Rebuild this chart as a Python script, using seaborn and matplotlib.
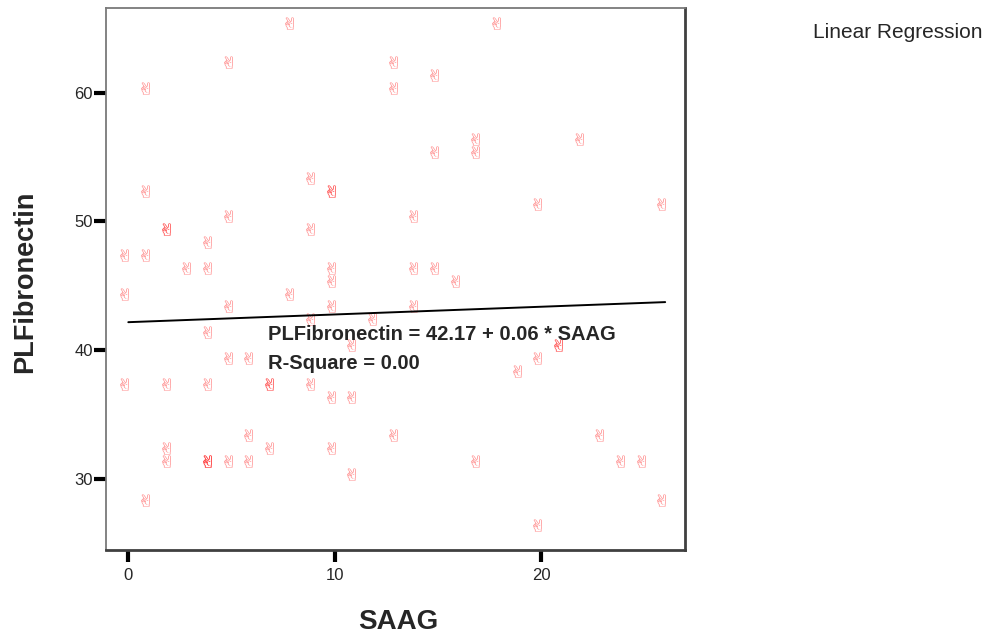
import numpy as np
import pandas as pd
import matplotlib
matplotlib.use("Agg")
import matplotlib.pyplot as plt
from matplotlib.transforms import ScaledTranslation, Affine2D
from matplotlib.textpath import TextPath
from matplotlib.font_manager import FontProperties
import seaborn as sns

# ---- data ----
saag = [8, 18, 5, 13, 15, 1, 13, 17, 22, 15, 17, 9, 1, 10, 10, 5, 14, 20, 26,
        2, 2, 9, 4, 0, 1, 3, 4, 10, 14, 15, 10, 16, 0, 8, 5, 10, 14, 9, 12, 4,
        11, 21, 21, 5, 6, 20, 19, 0, 2, 4, 7, 7, 9, 10, 11, 6, 13, 23, 2, 7,
        10, 2, 4, 4, 4, 5, 6, 17, 24, 25, 11, 1, 26, 20]
plfibronectin = [65, 65, 62, 62, 61, 60, 60, 56, 56, 55, 55, 53, 52, 52, 52, 50,
                 50, 51, 51, 49, 49, 49, 48, 47, 47, 46, 46, 46, 46, 46, 45, 45,
                 44, 44, 43, 43, 43, 42, 42, 41, 40, 40, 40, 39, 39, 39, 38, 37,
                 37, 37, 37, 37, 37, 36, 36, 33, 33, 33, 32, 32, 32, 31, 31, 31,
                 31, 31, 31, 31, 31, 31, 30, 28, 28, 26]
intercept = 42.17
slope = 0.06
r_square = 0.00
x_ticks = [0, 10, 20]
y_ticks = [30, 40, 50, 60]

df = pd.DataFrame({"SAAG": saag, "PLFibronectin": plfibronectin})

sns.set_style("white")
plt.rcParams["font.family"] = ["Liberation Sans", "DejaVu Sans"]

# victory-hand glyph marker, widened a little
tp = TextPath((0, 0), "\u270c", size=10, prop=FontProperties(family="DejaVu Sans"))
bb = tp.get_extents()
hand = tp.transformed(Affine2D().translate(-(bb.x0 + bb.x1) / 2,
                                           -(bb.y0 + bb.y1) / 2).scale(1.5, 1.0))

fig = plt.figure(figsize=(9.9, 6.37), dpi=100)
ax = fig.add_axes([106 / 990, 1 - 550 / 637, 579 / 990, 542 / 637])

sns.scatterplot(data=df, x="SAAG", y="PLFibronectin", ax=ax,
                marker=hand, s=190, color="#ff1a1a", alpha=0.5,
                linewidth=0, legend=False)
# SPSS draws the glyph slightly up-left of the data point
coll = ax.collections[0]
coll.set_offset_transform(ax.transData +
                          ScaledTranslation(-4 / 100, 5 / 100, fig.dpi_scale_trans))

x_fit = np.linspace(min(saag), max(saag), 100)
y_fit = intercept + slope * x_fit
sns.lineplot(x=x_fit, y=y_fit, ax=ax, color="black", linewidth=1.4)

ax.set_xlim(-1.08, 26.96)
ax.set_ylim(24.47, 66.58)
ax.set_xticks(x_ticks)
ax.set_yticks(y_ticks)
ax.tick_params(axis="both", direction="out", length=8.6, width=3.0,
               color="black", labelsize=12)
ax.tick_params(axis="y", pad=1)
ax.tick_params(axis="x", pad=4)
ax.tick_params(left=True, bottom=True)

for side in ["left", "top"]:
    ax.spines[side].set_color("#7a7a7a")
    ax.spines[side].set_linewidth(1.3)
for side in ["right", "bottom"]:
    ax.spines[side].set_color("#404040")
    ax.spines[side].set_linewidth(2.0)

ax.set_xlabel("SAAG", fontsize=20, fontweight="bold")
ax.xaxis.set_label_coords((398 - 106) / 579, (550 - 622) / 542)
ax.xaxis.label.set_va("center")
ax.set_ylabel("PLFibronectin", fontsize=19.5, fontweight="bold")
ax.yaxis.set_label_coords((25 - 106) / 579, (550 - 282) / 542)
ax.yaxis.label.set_va("center")

ax.text(0.28, 0.397, f"PLFibronectin = {intercept:.2f} + {slope:.2f} * SAAG",
        transform=ax.transAxes, fontsize=14.5, fontweight="bold",
        ha="left", va="center")
ax.text(0.28, 0.345, f"R-Square = {r_square:.2f}",
        transform=ax.transAxes, fontsize=14.5, fontweight="bold",
        ha="left", va="center")

fig.text(813 / 990, 1 - 33 / 637, "Linear Regression", fontsize=15,
         ha="left", va="center")

fig.savefig("out.png", dpi=100)
